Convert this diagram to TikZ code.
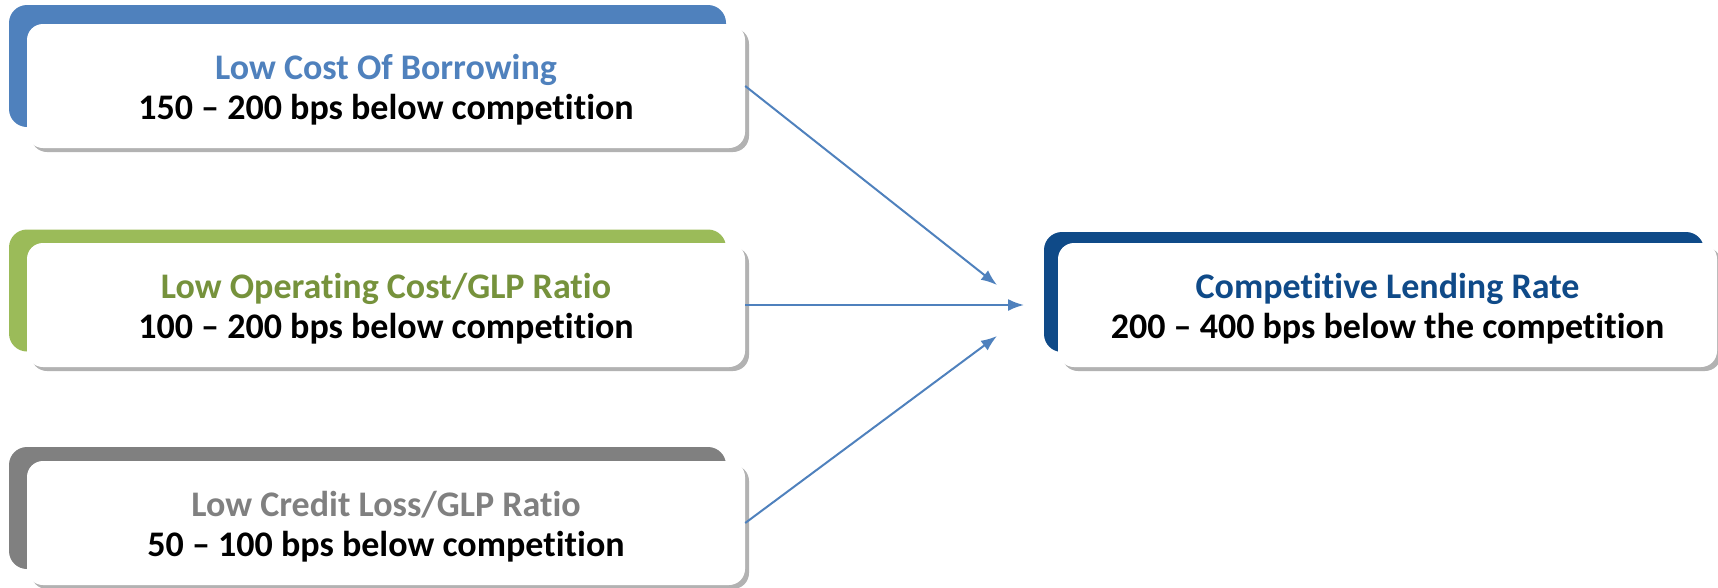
\documentclass[tikz,border=0pt]{standalone}
\usepackage{fontspec}
\setmainfont{Carlito}[Ligatures=NoCommon]
\usetikzlibrary{arrows.meta,shadows}
\definecolor{costblue}{HTML}{4F81BD}
\definecolor{opgreen}{HTML}{9BBB59}
\definecolor{opgreentext}{HTML}{76923C}
\definecolor{lossgray}{HTML}{808080}
\definecolor{ratenavy}{HTML}{0F4A88}
\newcommand{\boxlines}[3]{\rule{0pt}{32pt}\textcolor{#1}{#2}\\#3}
\tikzset{
  backbox/.style={rounded corners=18pt, minimum width=717pt, minimum height=122pt, inner sep=0pt},
  frontbox/.style={fill=white, rounded corners=16pt, minimum width=718pt, minimum height=124pt,
    inner sep=0pt, align=center, font=\fontsize{36}{40}\selectfont\bfseries,
    drop shadow={shadow xshift=4pt, shadow yshift=-4pt, fill=black, opacity=0.3}},
  link/.style={draw=costblue, line width=2pt, -{Latex[length=16pt,width=12pt]}}
}
\begin{document}
\begin{tikzpicture}[x=1pt,y=-1pt]
\useasboundingbox (0,0) rectangle (1718,587);
\node[backbox, fill=costblue] (costback) at (367.5,66) {};
\node[frontbox] (cost) at (386,86) {\boxlines{costblue}{Low Cost Of Borrowing}{150 – 200 bps below competition}};
\node[backbox, fill=opgreen] (opback) at (367.5,290.5) {};
\node[frontbox] (op) at (386,305) {\boxlines{opgreentext}{Low Operating Cost/GLP Ratio}{100 – 200 bps below competition}};
\node[backbox, fill=lossgray] (lossback) at (367.5,508) {};
\node[frontbox] (loss) at (386,523) {\boxlines{lossgray}{Low Credit Loss/GLP Ratio}{50 – 100 bps below competition}};
\node[backbox, fill=ratenavy, minimum width=660pt, minimum height=120pt] (rateback) at (1374,292) {};
\node[frontbox, minimum width=659pt] (rate) at (1387.5,305) {\boxlines{ratenavy}{Competitive Lending Rate}{200 – 400 bps below the competition}};
\coordinate (tipcost) at (997,285);
\coordinate (tipop) at (1024,305);
\coordinate (tiploss) at (997,336);
\draw[link] (cost.east) -- (tipcost);
\draw[link] (op.east) -- (tipop);
\draw[link] (loss.east) -- (tiploss);
\end{tikzpicture}
\end{document}
